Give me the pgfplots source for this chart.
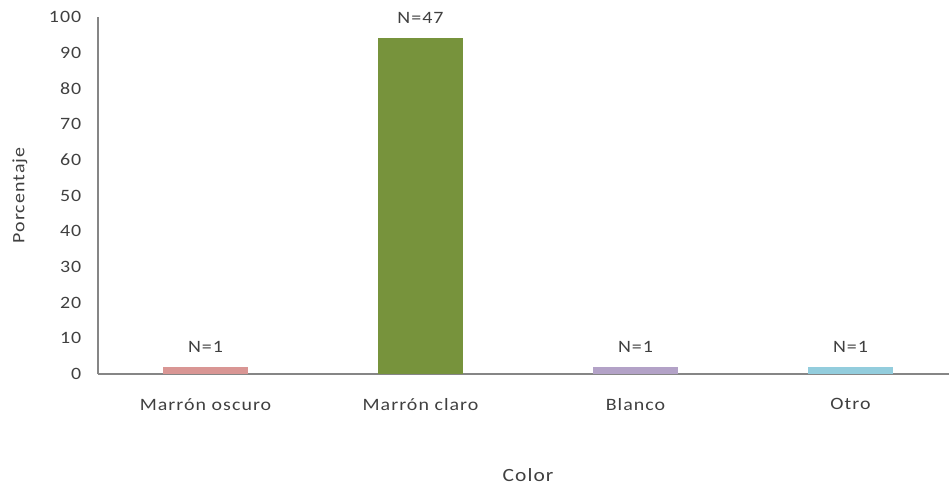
\documentclass[border=0pt]{standalone}
\usepackage{pgfplots}
\pgfplotsset{compat=1.18}
\usepackage{fontspec}
\setmainfont[FakeStretch=1.15,LetterSpace=6]{Carlito}
\usetikzlibrary{calc}
\definecolor{cPink}{HTML}{D99694}
\definecolor{cGreen}{HTML}{77933C}
\definecolor{cLav}{HTML}{B3A2C7}
\definecolor{cBlue}{HTML}{93CDDD}
\definecolor{axgray}{HTML}{868686}
\definecolor{txt}{HTML}{404040}
\begin{document}
\begin{tikzpicture}
\begin{axis}[
  name=ax,
  scale only axis,
  width=638.25pt, height=267.75pt,
  xmin=-0.5, xmax=3.458,
  ymin=0, ymax=100,
  ytick={0,10,...,100},
  xtick={0,1,2,3},
  xticklabels={Marrón oscuro,Marrón claro,Blanco,Otro},
  axis x line=bottom, axis y line=left,
  axis line style={axgray, line width=0.8pt, -},
  major tick length=0pt,
  ybar, bar width=63.75pt, bar shift=0pt,
  font=\fontsize{13pt}{15pt}\selectfont,
  tick label style={txt},
  /pgf/number format/assume math mode=true,
  yticklabel style={xshift=-9pt},
  xticklabel style={yshift=-15pt},
  ylabel={Porcentaje},
  ylabel style={txt, at={(axis description cs:0,0.5)}, anchor=center, rotate=0, yshift=58.5pt},
  xlabel={Color},
  xlabel style={txt, at={(axis cs:1.5,0)}, anchor=center, yshift=-75.75pt, font=\fontsize{14pt}{16pt}\selectfont},
  point meta=explicit,
  nodes near coords={N=\pgfmathprintnumber{\pgfplotspointmeta}},
  nodes near coords style={txt, anchor=center, yshift=15pt},
  every node near coord/.append style={font=\fontsize{13pt}{15pt}\selectfont},
]
\addplot[fill=cPink, draw=none] coordinates {(0,2) [1]};
\addplot[fill=cGreen, draw=none] coordinates {(1,94) [47]};
\addplot[fill=cLav, draw=none] coordinates {(2,2) [1]};
\addplot[fill=cBlue, draw=none] coordinates {(3,2) [1]};
\end{axis}
\pgfresetboundingbox
\path ($(ax.south west)+(-73.5pt,-84pt)$) rectangle ($(ax.north east)+(0pt,12.75pt)$);
\end{tikzpicture}
\end{document}
